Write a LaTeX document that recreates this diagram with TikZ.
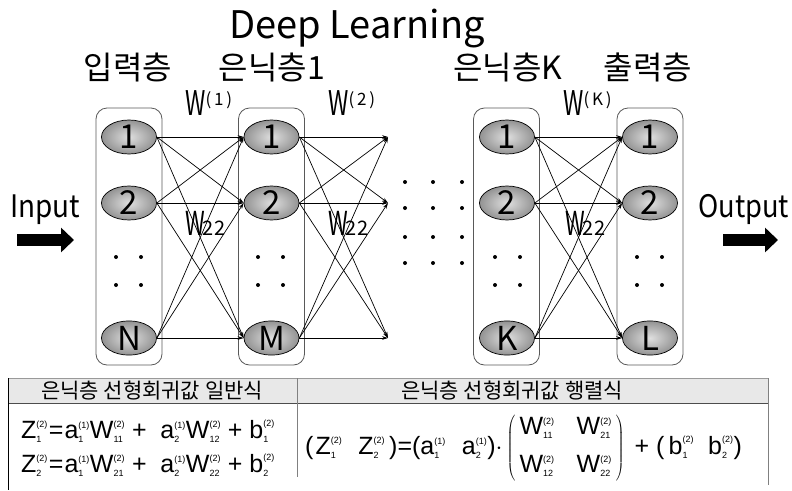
\documentclass[tikz,border=0pt]{standalone}
\usepackage{fontspec}
\usepackage{graphicx}
\setmainfont{Noto Sans CJK KR}
\newfontfamily\titlefont{Noto Sans CJK KR}
\newfontfamily\fmlafont{Liberation Sans}
\usetikzlibrary{positioning,arrows.meta,shapes.geometric}

\newcommand{\fsmall}{\fontsize{9}{9}\selectfont}
\newcommand{\fv}[3]{$\hbox{#1}^{\hbox{\fsmall #2}}_{\raisebox{2pt}{\fsmall #3}}$}
\newcommand{\narrowW}{\scalebox{0.68}[1]{W}}

\begin{document}
\begin{tikzpicture}[x=1pt, y=-1pt,
  neuron/.style={ellipse, draw=black, line width=0.7pt, minimum width=55pt,
    minimum height=34pt, inner sep=0pt, shading=radial, inner color=gray!25,
    outer color=gray!85, font=\fontsize{33}{33}\selectfont},
  layerbox/.style={draw=gray!70!black, rounded corners=11pt, line width=0.8pt,
    minimum width=66pt, minimum height=257pt, inner sep=0pt},
  layerlabel/.style={font=\fontsize{32}{32}\selectfont},
  wlabel/.style={anchor=base west, font=\fontsize{34}{34}\selectfont, inner sep=0pt},
  wsub/.style={anchor=base west, font=\fontsize{33}{33}\selectfont, inner sep=0pt},
  iolabel/.style={anchor=base west, font=\fontsize{31}{31}\selectfont, inner sep=0pt},
  headtext/.style={font=\fontsize{21}{21}\selectfont, inner sep=0pt},
  fmla/.style={anchor=base west, font=\fontsize{25}{29}\fmlafont, inner sep=0pt},
  wire/.style={-{Stealth[length=6pt,width=3.6pt]}, line width=0.7pt},
  bigarrow/.style={-{Triangle[length=13pt,width=24pt]}, line width=12pt}
]
\useasboundingbox (0,0) rectangle (792,490);

% title and layer names
\node[font=\fontsize{38}{38}\titlefont, anchor=base] (title) at (357,38) {Deep Learning};
\node[layerlabel] (lab1) at (128,67) {입력층};
\node[layerlabel] (lab2) at (272,67) {은닉층1};
\node[layerlabel] (lab3) at (508,67) {은닉층K};
\node[layerlabel] (lab4) at (648,67) {출력층};

% layer boxes
\node[layerbox] (box1) at (129,236.5) {};
\node[layerbox] (box2) at (271.5,236.5) {};
\node[layerbox] (box3) at (506.5,236.5) {};
\node[layerbox] (box4) at (650,236.5) {};

% neurons
\foreach \r/\y/\a/\b/\c/\d in {1/137/1/1/1/1, 2/203/2/2/2/2, 3/338/N/M/K/L} {
  \node[neuron] (inp\r) at (129,\y) {\a};
  \node[neuron] (hid\r) at (271.5,\y) {\b};
  \node[neuron] (hk\r) at (507,\y) {\c};
  \node[neuron] (out\r) at (650,\y) {\d};
  \coordinate (free\r) at (388,\y);
}

% vertical dots inside the boxes
\foreach \x in {116,141,258,283,495,520,637,662}
  \foreach \y in {257,285}
    \fill (\x,\y) circle (2pt);

% dots between the hidden layers
\foreach \x in {405,433,462}
  \foreach \y in {182,208,237,263}
    \fill (\x,\y) circle (2pt);

% weights
\foreach \s in {1,2,3}
  \foreach \t in {1,2,3} {
    \draw[wire] (inp\s.east) -- (hid\t.west);
    \draw[wire] (hid\s.east) -- (free\t);
    \draw[wire] (hk\s.east) -- (out\t.west);
  }

% weight labels
\node[wlabel] (w1) at (185,115) {\narrowW\raisebox{10pt}{\fontsize{17}{17}\selectfont (\,1\,)}};
\node[wlabel] (w2) at (328,115) {\narrowW\raisebox{10pt}{\fontsize{17}{17}\selectfont (\,2\,)}};
\node[wlabel] (wk) at (563,115) {\narrowW\raisebox{10pt}{\fontsize{17}{17}\selectfont (\,K\,)}};
\node[wsub] (w22a) at (185,235) {\narrowW\kern-2pt{\fontsize{20}{20}\selectfont 22}};
\node[wsub] (w22b) at (328,235) {\narrowW\kern-2pt{\fontsize{20}{20}\selectfont 22}};
\node[wsub] (w22c) at (565,235) {\narrowW\kern-2pt{\fontsize{20}{20}\selectfont 22}};

% input and output
\node[iolabel] (inlab) at (10,217) {\scalebox{0.9}[1]{Input}};
\node[iolabel] (outlab) at (698,217) {\scalebox{0.88}[1]{Output}};
\coordinate (inA) at (17,240);
\coordinate (inB) at (74,240);
\coordinate (outA) at (723,240);
\coordinate (outB) at (778,240);
\draw[bigarrow] (inA) -- (inB);
\draw[bigarrow] (outA) -- (outB);

% table
\fill[gray!18] (8,378) rectangle (768,403);
\draw[gray!80] (8,378) -- (768,378);
\draw[gray!60!black, line width=0.6pt] (8,403) -- (768,403);
\draw[line width=0.8pt] (8,378) -- (8,490);
\draw[gray] (297,378) -- (297,477);
\draw[gray] (768,378) -- (768,485);
\node[headtext] (head1) at (152,391) {은닉층 선형회귀값 일반식};
\node[headtext] (head2) at (512,391) {은닉층 선형회귀값 행렬식};

\node[fmla] (row1) at (21,438) {\fv{Z}{(2)}{1}\kern1pt=\kern1pt\fv{a}{(1)}{1}\fv{W}{(2)}{11} +\ \ \fv{a}{(1)}{2}\fv{W}{(2)}{12} + \fv{b}{(2)}{1}};
\node[fmla] (row2) at (21,472) {\fv{Z}{(2)}{2}\kern1pt=\kern1pt\fv{a}{(1)}{1}\fv{W}{(2)}{21} +\ \ \fv{a}{(1)}{2}\fv{W}{(2)}{22} + \fv{b}{(2)}{2}};
\node[fmla] (matfml) at (305,454) {(\kern2pt\fv{Z}{(2)}{1}\hspace{16pt}\fv{Z}{(2)}{2}\,)=(\fv{a}{(1)}{1}\hspace{16pt}\fv{a}{(1)}{2})$\cdot\left(\vcenter{\hbox{\begin{tabular}{@{\,}c@{\hspace{22pt}}c@{\,}}\fv{W}{(2)}{11} & \fv{W}{(2)}{21}\\[9pt]\fv{W}{(2)}{12} & \fv{W}{(2)}{22}\end{tabular}}}\right)$\hspace{10pt}+\ (\,\fv{b}{(2)}{1}\hspace{14pt}\fv{b}{(2)}{2})};
\end{tikzpicture}
\end{document}
